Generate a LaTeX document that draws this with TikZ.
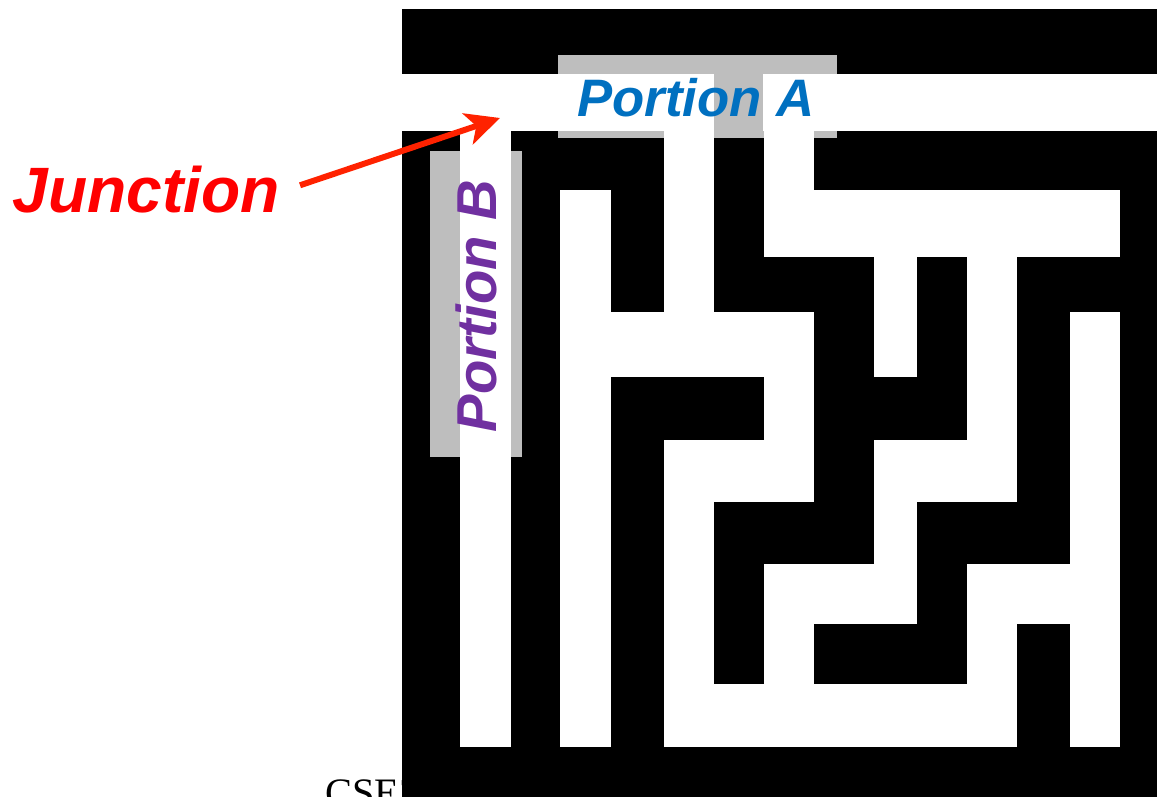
\documentclass[tikz,border=0pt]{standalone}
\usepackage{fontspec}
\usepackage{xcolor}
\usepackage{tikz}
\usetikzlibrary{arrows.meta}
\newfontfamily\tagfont{Liberation Sans}
\newfontfamily\footfont{Liberation Serif}
\definecolor{junctionred}{RGB}{255,0,0}
\definecolor{arrowred}{RGB}{255,34,0}
\definecolor{portionblue}{RGB}{0,112,192}
\definecolor{portionpurple}{RGB}{112,48,160}
\definecolor{tagshade}{RGB}{190,190,190}

\begin{document}
\begin{tikzpicture}[
    x=0.02cm, y=-0.02cm,
    wall/.style={fill=black},
    passage/.style={fill=white},
    tagbox/.style={fill=tagshade},
    pointer/.style={-{Stealth[length=0.68cm, width=0.65cm, inset=0.18cm]}, line width=3.4pt, arrowred, shorten <=0.3cm},
]
\useasboundingbox (0,0) rectangle (1157,797);

% === Footer (mostly hidden behind the maze) ===
\node[font=\footfont\fontsize{23}{26}\selectfont, anchor=base west, inner sep=0pt] (footer) at (325,806) {CSE3};

% === Maze: walls, label shading, passages ===
\fill[wall] (402,9) rectangle (1157,797);

\fill[tagbox] (558,55) rectangle (837,138);
\fill[tagbox] (430,151) rectangle (522,457);

\foreach \xa/\ya/\xb/\yb in {
    395/74/714/131, 763/74/1157/131,
    460/131/511/747, 560/190/611/747, 664/131/714/312, 560/312/814/377,
    764/131/814/257, 764/190/1120/257, 874/257/917/377, 967/257/1017/502,
    1070/312/1120/747, 764/312/814/502, 664/440/814/502, 664/502/714/747,
    874/440/1017/502, 874/502/917/624, 764/564/917/624, 764/564/814/747,
    967/564/1120/624, 664/684/1017/747, 967/564/1017/747}{
    \fill[passage] (\xa,\ya) rectangle (\xb,\yb);
}

% === Labels ===
\node[font=\tagfont\bfseries\itshape\fontsize{30}{33}\selectfont, text=portionblue, anchor=base] (portionA) at (696,117) {Portion A};
\node[font=\tagfont\bfseries\itshape\fontsize{32}{35}\selectfont, text=portionpurple, rotate=90, anchor=base] (portionB) at (496,306) {Portion B};

\node[font=\tagfont\bfseries\itshape\fontsize{36.5}{40}\selectfont, text=junctionred, anchor=base] (junction) at (146,213) {Junction};

% Arrow to the meeting point of the two portions
\coordinate (jtip) at (500,118);
\draw[pointer] (junction.east) -- (jtip);

\end{tikzpicture}
\end{document}
